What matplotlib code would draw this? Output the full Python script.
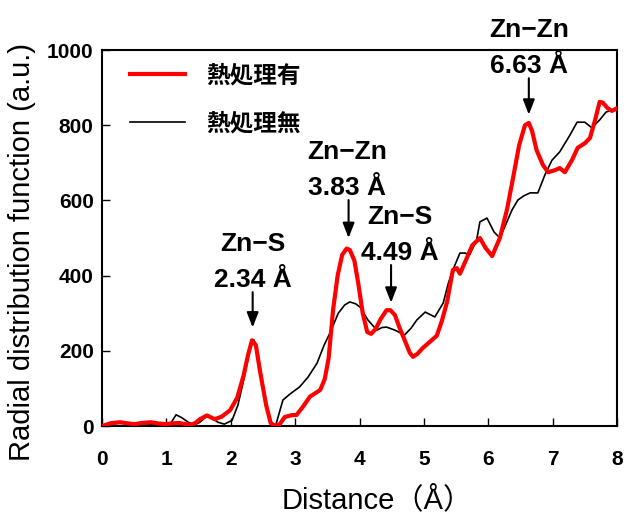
import matplotlib
matplotlib.use("Agg")
import matplotlib.pyplot as plt

plt.rcParams["font.family"] = ["Liberation Sans", "Noto Sans CJK JP", "DejaVu Sans"]

# RDF curve, heat treated sample
r_treated = [0.00, 0.15, 0.28, 0.40, 0.50, 0.62, 0.75, 0.87, 0.98, 1.10, 1.20, 1.30,
             1.37, 1.45, 1.52, 1.63, 1.75, 1.86, 1.99, 2.10, 2.20, 2.27, 2.33, 2.39,
             2.45, 2.55, 2.62, 2.69, 2.76, 2.84, 2.95, 3.02, 3.12, 3.23, 3.39, 3.46,
             3.52, 3.59, 3.66, 3.73, 3.80, 3.85, 3.92, 3.98, 4.05, 4.12, 4.18, 4.25,
             4.33, 4.42, 4.48, 4.55, 4.62, 4.70, 4.78, 4.83, 4.90, 4.98, 5.10, 5.20,
             5.28, 5.36, 5.45, 5.51, 5.56, 5.65, 5.75, 5.87, 5.96, 6.06, 6.18, 6.29,
             6.38, 6.48, 6.57, 6.63, 6.68, 6.75, 6.85, 6.93, 7.03, 7.11, 7.19, 7.30,
             7.39, 7.50, 7.58, 7.66, 7.73, 7.78, 7.85, 7.92, 8.00]
g_treated = [0, 8, 10, 7, 5, 8, 10, 7, 5, 7, 8, 5,
             3, 8, 18, 28, 18, 25, 42, 75, 135, 190, 228, 215,
             150, 55, 8, 0, 5, 24, 29, 29, 51, 78, 96, 125,
             180, 310, 400, 455, 472, 468, 440, 380, 300, 250, 245, 258,
             285, 308, 308, 295, 262, 229, 195, 184, 192, 207, 225, 240,
             280, 330, 415, 420, 405, 440, 480, 500, 473, 452, 500, 575,
             655, 747, 800, 806, 785, 734, 694, 675, 680, 686, 675, 707,
             740, 752, 766, 814, 862, 860, 846, 838, 845]

# RDF curve, untreated sample
r_untreated = [0.00, 0.15, 0.30, 0.45, 0.60, 0.75, 0.90, 1.00, 1.06, 1.15, 1.24, 1.34,
               1.44, 1.52, 1.62, 1.70, 1.80, 1.90, 2.02, 2.11, 2.20, 2.31, 2.36, 2.44,
               2.52, 2.60, 2.65, 2.70, 2.81, 2.92, 3.07, 3.20, 3.34, 3.45, 3.54, 3.67,
               3.77, 3.85, 3.94, 4.01, 4.13, 4.27, 4.35, 4.42, 4.55, 4.70, 4.80, 4.89,
               5.02, 5.17, 5.30, 5.38, 5.45, 5.56, 5.64, 5.71, 5.82, 5.87, 5.98, 6.09,
               6.18, 6.27, 6.37, 6.46, 6.55, 6.65, 6.77, 6.88, 6.99, 7.11, 7.27, 7.38,
               7.50, 7.61, 7.73, 7.83, 7.92, 8.00]
g_untreated = [0, 5, 8, 4, 6, 5, 4, 3, 5, 30, 22, 10,
               3, 10, 25, 22, 10, 5, 15, 55, 122, 218, 229, 175,
               82, 15, 0, 3, 69, 85, 104, 130, 167, 215, 247, 300,
               322, 330, 325, 316, 282, 255, 262, 263, 255, 242, 260, 282,
               303, 290, 327, 380, 415, 460, 460, 455, 495, 543, 553, 516,
               500, 535, 575, 601, 612, 620, 620, 668, 707, 729, 774, 808,
               808, 793, 814, 835, 840, 848]

# peak assignments: pair name, distance, where the label sits, arrow tip / tail heights
peak_pairs = ["Zn−S", "Zn−Zn", "Zn−S", "Zn−Zn"]
peak_r = [2.34, 3.83, 4.49, 6.63]
label_r = [2.34, 3.81, 4.62, 6.63]
arrow_tip = [262, 500, 328, 828]
arrow_tail = [356, 601, 428, 925]

fig = plt.figure(figsize=(6.24, 5.14), dpi=100)
ax = fig.add_axes([0.1635, 0.1712, 0.8253, 0.7315])

ax.plot(r_treated, g_treated, color="#ff0000", lw=3.0, label="熱処理有", zorder=3)
ax.plot(r_untreated, g_untreated, color="black", lw=1.2, label="熱処理無", zorder=2)

for pair, r, lr, tip, tail in zip(peak_pairs, peak_r, label_r, arrow_tip, arrow_tail):
    ax.annotate("", xy=(r, tip), xytext=(r, tail),
                arrowprops=dict(arrowstyle="-|>,head_length=0.9,head_width=0.35",
                                color="black", lw=1.5, shrinkA=0, shrinkB=0))
    ax.text(lr, tail + 33, f"{r:.2f} Å", ha="center", va="center",
            fontsize=19, fontweight="bold", clip_on=False)
    ax.text(lr, tail + 128, pair, ha="center", va="center",
            fontsize=19, fontweight="bold", clip_on=False)

ax.set_xlim(0, 8)
ax.set_ylim(0, 1000)
ax.set_xticks(range(0, 9))
ax.set_yticks(range(0, 1001, 200))
ax.tick_params(direction="in", length=6, width=1, labelsize=15)
ax.tick_params(axis="x", pad=17)
ax.tick_params(axis="y", pad=6)
for lbl in ax.get_xticklabels() + ax.get_yticklabels():
    lbl.set_fontweight("bold")
for s in ax.spines.values():
    s.set_linewidth(1.5)

ax.set_xlabel("Distance（Å）", fontsize=21, labelpad=12, x=0.534)
ax.set_ylabel("Radial distribution function (a.u.)", fontsize=21, labelpad=8, y=0.463)

ax.legend(loc="upper left", bbox_to_anchor=(0.032, 0.995), frameon=False,
          prop={"family": ["Noto Sans CJK JP"], "weight": "bold", "size": 17},
          handlelength=2.3, labelspacing=1.0, borderpad=0, handletextpad=0.9)

fig.savefig("out.png", dpi=100)
